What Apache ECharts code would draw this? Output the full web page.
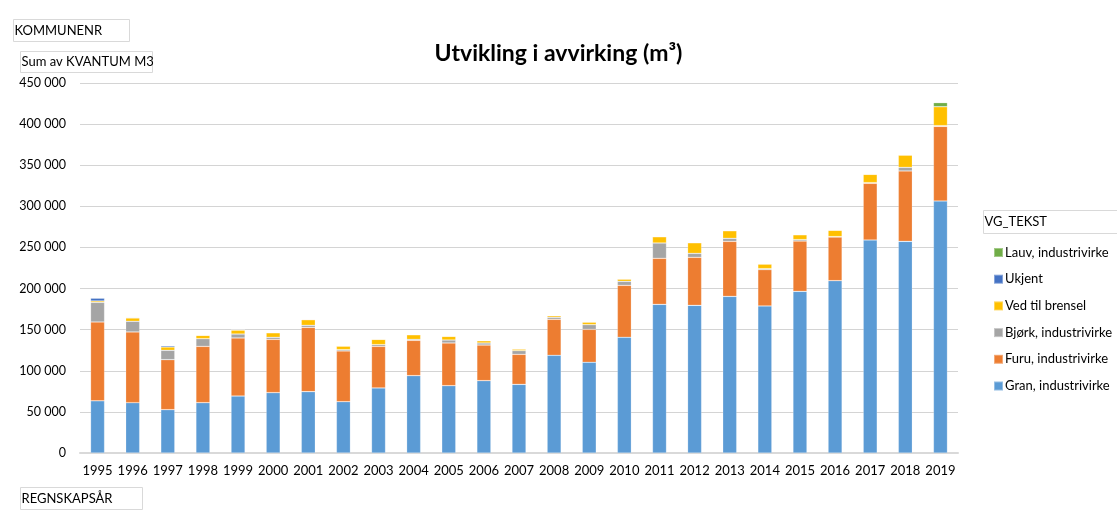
<!DOCTYPE html>
<html>
<head>
<meta charset="utf-8">
<script src="https://cdn.jsdelivr.net/npm/echarts@6/dist/echarts.min.js"></script>
<style>
html,body{margin:0;padding:0;background:#fff;}
#c{width:1117px;height:513px;}
</style>
</head>
<body>
<div id="c"></div>
<script>
const years = ['1995','1996','1997','1998','1999','2000','2001','2002','2003','2004','2005','2006','2007','2008','2009','2010','2011','2012','2013','2014','2015','2016','2017','2018','2019'];
const gran   = [63500,61200,52700,61200,69300,73400,74600,62400,79100,94100,81900,88000,83500,118800,110300,140700,180800,179600,190500,178800,196600,209600,259000,257400,306500];
const furu   = [95800,86000,60800,68500,70600,64800,78200,61700,50600,42900,51900,43300,36500,43800,40100,63200,56000,58400,66900,44200,61200,53100,69000,85600,90800];
const bjork  = [23900,13000,11400,9300,4800,2500,2500,1600,2100,1200,3600,2500,4500,2400,5700,4900,18600,4800,3700,1200,1700,500,800,4400,800];
const ved    = [1700,4000,4000,4100,4900,5600,6900,4400,6400,5700,4500,2800,2000,2000,3200,2800,7700,13000,9300,5700,6000,7700,10100,15000,23100];
const ukjent = [3500,800,1600,0,0,0,0,0,0,0,0,0,0,0,0,0,0,0,0,0,0,0,0,0,0];
const lauv   = [0,0,0,0,0,0,0,0,0,0,0,0,0,0,0,0,0,0,0,0,0,0,0,0,4900];
const yTicks = [0,50000,100000,150000,200000,250000,300000,350000,400000,450000];

const names = ['Gran, industrivirke','Furu, industrivirke','Bjørk, industrivirke','Ved til brensel','Ukjent','Lauv, industrivirke'];
const datasets = [gran, furu, bjork, ved, ukjent, lauv];
const colors = ['#5b9bd5','#ed7d31','#a5a5a5','#ffc000','#4472c4','#70ad47'];
const FONT = 'Lato, "Open Sans", sans-serif';

const chart = echarts.init(document.getElementById('c'));
function boxLabel(x, y, w, h, text){
  return {
    type:'group', left:x, top:y,
    children:[
      {type:'rect', shape:{x:0,y:0,width:w,height:h}, style:{fill:'#fff',stroke:'#d9d9d9',lineWidth:1}},
      {type:'text', x:1, y:h/2, style:{text:text, font:'13px '+FONT, fill:'#000', textVerticalAlign:'middle'}}
    ]
  };
}
chart.setOption({
  backgroundColor:'#fff',
  animation:false,
  color: colors,
  title:{
    text:'Utvikling i avvirking (m³)', left:'center', top:37,
    textStyle:{fontFamily:FONT, fontSize:23, fontWeight:'bold', color:'#000'}
  },
  legend:{
    orient:'vertical', left:988, top:240,
    data:names.slice().reverse(),
    icon:'rect', itemWidth:9, itemHeight:9, itemGap:11.7,
    textStyle:{fontFamily:FONT, fontSize:13, color:'#000', lineHeight:15, padding:[0,0,0,-3]}
  },
  grid:{left:80, right:159, top:83, bottom:60, containLabel:false},
  xAxis:{
    type:'category', data:years,
    axisTick:{show:false},
    axisLine:{lineStyle:{color:'#d9d9d9', width:2}},
    axisLabel:{interval:0, fontFamily:FONT, fontSize:13, color:'#000', margin:11}
  },
  yAxis:{
    type:'value', min:yTicks[0], max:yTicks[yTicks.length-1], interval:50000,
    axisLine:{show:false}, axisTick:{show:false},
    splitLine:{lineStyle:{color:'#d4d4d4', width:1.2}},
    axisLabel:{fontFamily:FONT, fontSize:12.5, color:'#000', margin:14,
      formatter:v=> v===0 ? '0' : String(v).replace(/\B(?=(\d{3})+(?!\d))/g,' ')}
  },
  series: names.map((n,i)=>({
    name:n, type:'bar', stack:'total', barWidth:14,
    data:datasets[i],
    itemStyle:{color:colors[i], borderColor:'rgba(255,255,255,0.35)', borderWidth:0.6}
  })),
  graphic:[
    boxLabel(13,19,116,22,'KOMMUNENR'),
    boxLabel(20,51,132,21,'Sum av KVANTUM M3'),
    boxLabel(20,487,122,22,'REGNSKAPSÅR'),
    boxLabel(983,210,140,23,'VG_TEKST')
  ]
});
</script>
</body>
</html>
